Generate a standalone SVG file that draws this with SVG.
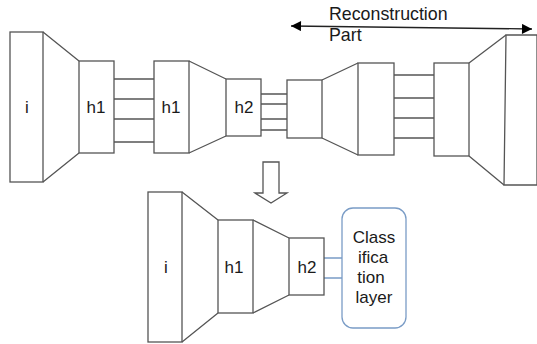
<svg xmlns="http://www.w3.org/2000/svg" width="537" height="344" viewBox="0 0 537 344">
<defs>
<style>
.s{fill:none;stroke:#555;stroke-width:1.3}
.w{fill:#fff;stroke:#555;stroke-width:1.3}
.t{font-family:"Liberation Sans",Arial,sans-serif;font-size:17px;fill:#1a1a1a;text-anchor:middle}
.c{stroke:#7a9cc6;stroke-width:1.3;fill:none}
</style>
<marker id="ah" viewBox="0 0 10 10" refX="10" refY="5" markerWidth="14" markerHeight="10" markerUnits="userSpaceOnUse" orient="auto-start-reverse">
<path d="M0,0 L10,5 L0,10 Z" fill="#000"/>
</marker>
</defs>
<rect width="537" height="344" fill="#fff"/>
<g id="connectors">
<path class="s" d="M114,79H154M114,99H154M114,119H154M114,142H154"/>
<path class="s" d="M261,94H287M261,104H287M261,119H287M261,130H287"/>
<path class="s" d="M394,75H434M394,98H434M394,118H434M394,138H434"/>
<path class="c" d="M324,258H342M324,278H342"/>
<line x1="291" y1="26" x2="532" y2="29" stroke="#222" stroke-width="1.3" marker-start="url(#ah)" marker-end="url(#ah)"/>
</g>
<g id="top-i"><rect class="w" x="10" y="32" width="33" height="150"/><text class="t" x="27" y="113">i</text></g>
<g id="top-trap1"><path class="s" d="M43,32L79,61M43,182L79,153"/></g>
<g id="top-h1a"><rect class="w" x="79" y="61" width="35" height="92"/><text class="t" x="96" y="113">h1</text></g>
<g id="top-h1b"><rect class="w" x="154" y="61" width="35" height="92"/><text class="t" x="171" y="113">h1</text></g>
<g id="top-trap2"><path class="s" d="M189,61L226,79M189,153L226,136"/></g>
<g id="top-h2"><rect class="w" x="226" y="79" width="35" height="57"/><text class="t" x="244" y="113">h2</text></g>
<g id="rec-1"><rect class="w" x="287" y="80" width="35" height="58"/></g>
<g id="rec-trap1"><path class="s" d="M322,80L358,63M322,138L358,155"/></g>
<g id="rec-2"><rect class="w" x="358" y="63" width="36" height="92"/></g>
<g id="rec-3"><rect class="w" x="434" y="63" width="35" height="93"/></g>
<g id="rec-trap2"><path class="s" d="M469,63L506,35M469,156L504,185"/></g>
<g id="rec-out"><path class="w" d="M506,35H537V185H504Z"/></g>
<g id="label-rec"><text class="t" x="329" y="20" style="text-anchor:start;font-size:17.8px">Reconstruction</text><text class="t" x="329" y="41" style="text-anchor:start;font-size:17.8px">Part</text></g>
<g id="down-arrow"><path class="s" d="M263,162H279V193H287L271,203L255,193H263Z"/></g>
<g id="bot-i"><rect class="w" x="148" y="192" width="34" height="150"/><text class="t" x="166" y="273">i</text></g>
<g id="bot-trap1"><path class="s" d="M182,192L218,220M182,342L218,313"/></g>
<g id="bot-h1"><rect class="w" x="218" y="220" width="35" height="93"/><text class="t" x="234" y="273">h1</text></g>
<g id="bot-trap2"><path class="s" d="M253,220L289,238M253,313L289,295"/></g>
<g id="bot-h2"><rect class="w" x="289" y="238" width="35" height="57"/><text class="t" x="307" y="273">h2</text></g>
<g id="classification"><rect x="342" y="208" width="64" height="120" rx="11" fill="#fff" stroke="#7a9cc6" stroke-width="1.3"/>
<text class="t" x="374" y="243">Class</text><text class="t" x="373" y="263">ifica</text><text class="t" x="371" y="283">tion</text><text class="t" x="374" y="303">layer</text></g>
</svg>
